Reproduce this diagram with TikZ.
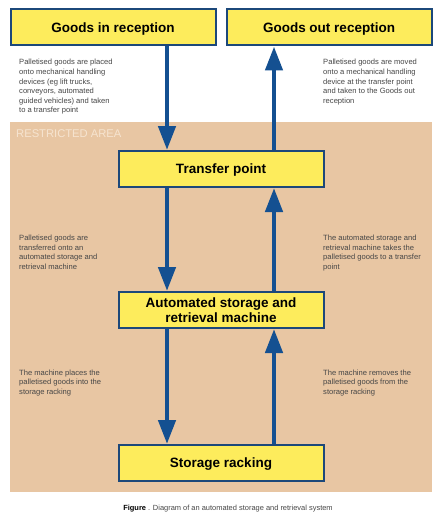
\documentclass[tikz,border=0pt]{standalone}
\usepackage{fontspec}
\setmainfont{Liberation Sans}
\usetikzlibrary{arrows.meta}
\definecolor{areatan}{RGB}{232,198,163}
\definecolor{boxyellow}{RGB}{253,236,92}
\definecolor{boxedge}{RGB}{28,72,122}
\definecolor{arrowblue}{RGB}{20,80,145}
\definecolor{notegray}{RGB}{70,70,70}
\definecolor{arealabel}{RGB}{246,228,208}
\tikzset{
  stagebox/.style={draw=boxedge, line width=2pt, fill=boxyellow, minimum width=205pt,
    minimum height=36pt, inner sep=0pt, align=center,
    font=\fontsize{13.5}{15.6}\selectfont\bfseries},
  oneline/.style={text height=9.7pt, text depth=0pt},
  note/.style={anchor=base west, inner sep=0pt, align=left, text=notegray,
    font=\fontsize{7.6}{9.6}\selectfont},
  flow/.style={draw=arrowblue, line width=4.5pt,
    -{Triangle[width=17pt,length=24pt]}}
}
\begin{document}
\begin{tikzpicture}[x=1pt,y=-1pt]
\path[use as bounding box, fill=white] (0,0) rectangle (447,524);
\fill[areatan] (10,122) rectangle (432,492);
\node[anchor=base west, inner sep=0pt, text=arealabel, font=\fontsize{11.2}{12}\selectfont] (area) at (16,137.5) {RESTRICTED AREA};

\node[stagebox, oneline] (gin) at (113,27.5) {Goods in reception};
\node[stagebox, oneline] (gout) at (329,27.5) {Goods out reception};
\node[stagebox, oneline] (tp) at (221,169) {Transfer point};
\node[stagebox] (asrm) at (221,310) {Automated storage and\\retrieval machine};
\node[stagebox, oneline] (sr) at (221,463) {Storage racking};

\coordinate (L) at (167,0);
\coordinate (R) at (274,0);

\draw[flow] (gin.south -| L) -- (tp.north -| L);
\draw[flow] (tp.north -| R) -- (gout.south -| R);
\draw[flow] (tp.south -| L) -- (asrm.north -| L);
\draw[flow] (asrm.north -| R) -- (tp.south -| R);
\draw[flow] (asrm.south -| L) -- (sr.north -| L);
\draw[flow] (sr.north -| R) -- (asrm.south -| R);

% base anchor is the last line's baseline
\node[note] (n1) at (19,113) {Palletised goods are placed\\onto mechanical handling\\devices (eg lift trucks,\\conveyors, automated\\guided vehicles) and taken\\to a transfer point};
\node[note] (n2) at (323,103.4) {Palletised goods are moved\\onto a mechanical handling\\device at the transfer point\\and taken to the Goods out\\reception};
\node[note] (n3) at (19,269.3) {Palletised goods are\\transferred onto an\\automated storage and\\retrieval machine};
\node[note] (n4) at (323,269.3) {The automated storage and\\retrieval machine takes the\\palletised goods to a transfer\\point};
\node[note] (n5) at (19,394.2) {The machine places the\\palletised goods into the\\storage racking};
\node[note] (n6) at (323,394.2) {The machine removes the\\palletised goods from the\\storage racking};

\node[anchor=base, inner sep=0pt, text=notegray, font=\fontsize{7.45}{9}\selectfont] (cap) at (228,510.7) {\textbf{\color{black}Figure} . Diagram of an automated storage and retrieval system};
\end{tikzpicture}
\end{document}
